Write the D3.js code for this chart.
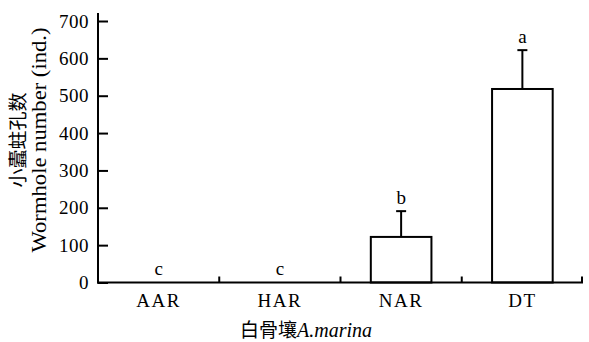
<!DOCTYPE html>
<html>
<head>
<meta charset="utf-8">
<script src="https://cdn.jsdelivr.net/npm/d3@7"></script>
<style>
  html, body { margin: 0; padding: 0; background: #fff; }
</style>
</head>
<body>
<svg id="chart" width="589" height="342"></svg>
<script>
// Wormhole counts per site, with standard errors and significance letters
const categories = ["AAR", "HAR", "NAR", "DT"];
const means = [0, 0, 122, 518];
const errors = [0, 0, 69, 104];
const letters = ["c", "c", "b", "a"];
const yTicks = [0, 100, 200, 300, 400, 500, 600, 700];

const SERIF = "'Liberation Serif', 'Times New Roman', serif";
const CJK = "'Noto Sans CJK SC', sans-serif";

const svg = d3.select("#chart");
const margin = { left: 98, right: 6, top: 21, bottom: 59.5 };
const W = 589, H = 342;

const x = d3.scaleBand()
  .domain(categories)
  .range([margin.left, W - margin.right])
  .paddingInner(0.5)
  .paddingOuter(0.25);

const y = d3.scaleLinear()
  .domain([0, 700])
  .range([H - margin.bottom, margin.top]);

const g = svg.append("g");

// Bars
g.selectAll("rect.bar")
  .data(categories)
  .join("rect")
  .attr("class", "bar")
  .attr("x", d => x(d))
  .attr("width", x.bandwidth())
  .attr("y", (d, i) => y(means[i]))
  .attr("height", (d, i) => y(0) - y(means[i]))
  .attr("fill", "#fff")
  .attr("stroke", "#000")
  .attr("stroke-width", 2);

// Error bars (upper half only)
const cx = d => x(d) + x.bandwidth() / 2;
const idx = d => categories.indexOf(d);
const withErr = categories.filter((d, i) => errors[i] > 0);
g.selectAll("line.err")
  .data(withErr)
  .join("line")
  .attr("class", "err")
  .attr("x1", cx).attr("x2", cx)
  .attr("y1", d => y(means[idx(d)]))
  .attr("y2", d => y(means[idx(d)] + errors[idx(d)]))
  .attr("stroke", "#000").attr("stroke-width", 2);
g.selectAll("line.cap")
  .data(withErr)
  .join("line")
  .attr("class", "cap")
  .attr("x1", d => cx(d) - 5).attr("x2", d => cx(d) + 5)
  .attr("y1", d => y(means[idx(d)] + errors[idx(d)]))
  .attr("y2", d => y(means[idx(d)] + errors[idx(d)]))
  .attr("stroke", "#000").attr("stroke-width", 2);

// Significance letters
g.selectAll("text.sig")
  .data(categories)
  .join("text")
  .attr("class", "sig")
  .attr("x", cx)
  .attr("y", (d, i) => y(means[i] + errors[i]) - 7.5)
  .attr("text-anchor", "middle")
  .style("font-family", SERIF)
  .style("font-size", "19px")
  .text((d, i) => letters[i]);

// Y axis: inward ticks, labels drawn separately
const yAxis = d3.axisRight(y)
  .tickValues(yTicks)
  .tickSize(10)
  .tickFormat("");
const ya = svg.append("g")
  .attr("transform", `translate(${margin.left},0)`)
  .call(yAxis);
ya.select(".domain").remove();
ya.selectAll(".tick line").attr("stroke-width", 2);
ya.append("line")
  .attr("x1", 0).attr("x2", 0)
  .attr("y1", y(700) - 8).attr("y2", y(0) + 1)
  .attr("stroke", "#000").attr("stroke-width", 2);
svg.append("g").selectAll("text")
  .data(yTicks)
  .join("text")
  .attr("x", 89)
  .attr("y", d => y(d) + 6.5)
  .attr("text-anchor", "end")
  .style("font-family", SERIF)
  .style("font-size", "19px")
  .style("letter-spacing", "0.5px")
  .text(d => String(d));

// X axis: baseline with small inward ticks at band boundaries
const xa = svg.append("g");
xa.append("line")
  .attr("x1", margin.left - 1).attr("x2", W - margin.right)
  .attr("y1", y(0)).attr("y2", y(0))
  .attr("stroke", "#000").attr("stroke-width", 2);
const step = x.step();
const bounds = categories.map((d, i) => Math.min(margin.left + step * (i + 1), W - margin.right - 1));
xa.selectAll("line.xt")
  .data(bounds)
  .join("line")
  .attr("class", "xt")
  .attr("x1", d => d).attr("x2", d => d)
  .attr("y1", y(0)).attr("y2", y(0) - 6)
  .attr("stroke", "#000").attr("stroke-width", 2);
xa.selectAll("text")
  .data(categories)
  .join("text")
  .attr("x", cx)
  .attr("y", 307)
  .attr("text-anchor", "middle")
  .style("font-family", SERIF)
  .style("font-size", "19px")
  .style("letter-spacing", "1.5px")
  .text(d => d);

// X title
const xt = svg.append("text")
  .attr("x", 240)
  .attr("y", 337)
  .style("font-size", "19px");
xt.append("tspan").style("font-family", CJK).text("白骨壤");
xt.append("tspan").style("font-family", SERIF).style("font-style", "italic").style("font-size", "20px").text("A.marina");

// Y title (two lines)
svg.append("text")
  .attr("transform", "translate(25,140) rotate(-90)")
  .attr("text-anchor", "middle")
  .style("font-family", CJK)
  .style("font-size", "19px")
  .text("小蠹蛀孔数");
svg.append("text")
  .attr("transform", "translate(46,140) rotate(-90)")
  .attr("text-anchor", "middle")
  .style("font-family", SERIF)
  .style("font-size", "20px")
  .attr("textLength", 225)
  .attr("lengthAdjust", "spacingAndGlyphs")
  .text("Wormhole number (ind.)");
</script>
</body>
</html>
